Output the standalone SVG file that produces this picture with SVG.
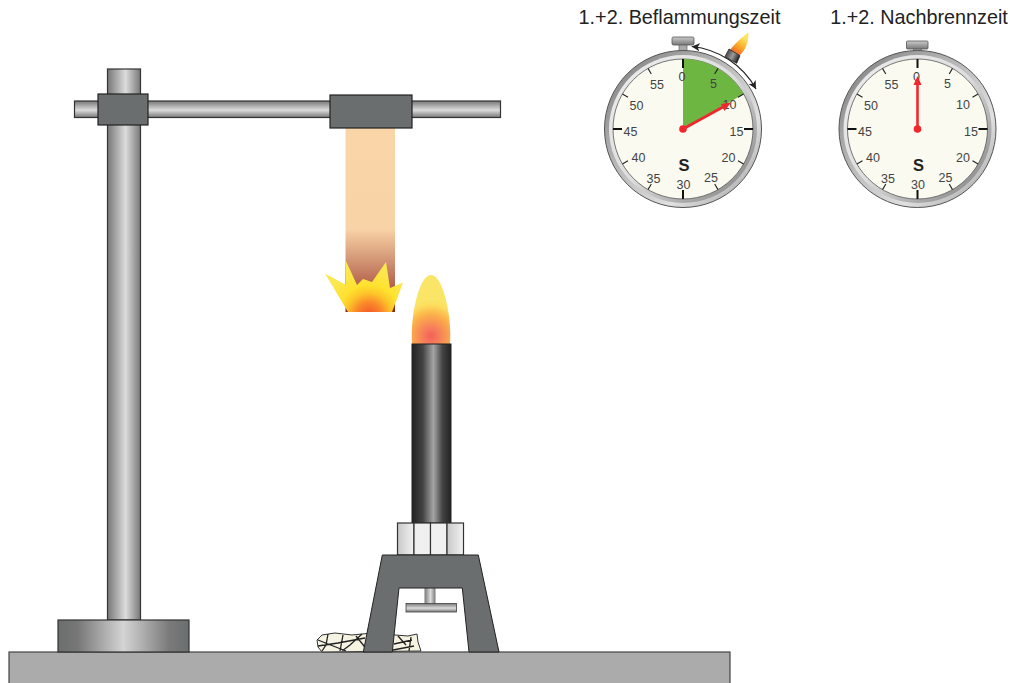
<svg xmlns="http://www.w3.org/2000/svg" width="1010" height="683" viewBox="0 0 1010 683">
<style>
.o{stroke:#333;stroke-width:1.2}
.num{font:12.5px "Liberation Sans",Arial,sans-serif;fill:#444;text-anchor:middle}
.s{font:bold 16.5px "Liberation Sans",Arial,sans-serif;fill:#222;text-anchor:middle}
.ttl{font:19.8px "Liberation Sans",Arial,sans-serif;fill:#222;text-anchor:middle}
.clamp{fill:#6a6e6e;stroke:#222;stroke-width:1.2}
.t1{stroke:#222;stroke-width:1.1}
.t2{stroke:#111;stroke-width:2}
</style>
<defs>
<linearGradient id="rodV"><stop offset="0" stop-color="#777"/><stop offset=".55" stop-color="#dcdcdc"/><stop offset="1" stop-color="#777"/></linearGradient>
<linearGradient id="rodH" x2="0" y2="1"><stop offset="0" stop-color="#777"/><stop offset=".55" stop-color="#dcdcdc"/><stop offset="1" stop-color="#777"/></linearGradient>
<linearGradient id="foot"><stop offset="0" stop-color="#6a6e6e"/><stop offset=".15" stop-color="#777"/><stop offset=".5" stop-color="#d4d4d4"/><stop offset=".85" stop-color="#7a7a7a"/><stop offset="1" stop-color="#6a6e6e"/></linearGradient>
<linearGradient id="tube"><stop offset="0" stop-color="#222"/><stop offset=".28" stop-color="#444"/><stop offset=".55" stop-color="#a5a5a5"/><stop offset=".78" stop-color="#444"/><stop offset="1" stop-color="#222"/></linearGradient>
<linearGradient id="nut"><stop offset="0" stop-color="#c8c8c8"/><stop offset="1" stop-color="#f2f2f2"/></linearGradient>
<linearGradient id="sample" gradientUnits="userSpaceOnUse" x1="0" y1="128" x2="0" y2="312"><stop offset="0" stop-color="#f9d5a8"/><stop offset=".55" stop-color="#f8d3a6"/><stop offset=".85" stop-color="#b5654e"/><stop offset="1" stop-color="#7a2a20"/></linearGradient>
<radialGradient id="fl1" gradientUnits="userSpaceOnUse" cx="369" cy="316" r="46"><stop offset="0" stop-color="#f0502a"/><stop offset=".3" stop-color="#fb8a2a"/><stop offset=".5" stop-color="#fdc62a"/><stop offset=".68" stop-color="#fee22e"/><stop offset="1" stop-color="#fbe74e"/></radialGradient>
<radialGradient id="fl2" gradientUnits="userSpaceOnUse" cx="431" cy="336" r="36"><stop offset="0" stop-color="#f4605a"/><stop offset=".25" stop-color="#f6805a"/><stop offset=".6" stop-color="#fbb14a"/><stop offset=".85" stop-color="#fcdc5c"/><stop offset="1" stop-color="#fbe566"/></radialGradient>
<linearGradient id="ring" x1="0" y1="0" x2="1" y2="1"><stop offset="0" stop-color="#777"/><stop offset=".3" stop-color="#a8a8a8"/><stop offset=".7" stop-color="#e0e0e0"/><stop offset="1" stop-color="#999"/></linearGradient>
<linearGradient id="ring2" x1="1" y1="1" x2="0" y2="0"><stop offset="0" stop-color="#777"/><stop offset=".5" stop-color="#ddd"/><stop offset="1" stop-color="#eee"/></linearGradient>
<linearGradient id="crown" x2="0" y2="1"><stop offset="0" stop-color="#ccc"/><stop offset="1" stop-color="#777"/></linearGradient>
<linearGradient id="minit" x1="0" y1="0" x2="1" y2=".5"><stop offset="0" stop-color="#222"/><stop offset=".6" stop-color="#999"/><stop offset="1" stop-color="#222"/></linearGradient>
<linearGradient id="miniflame" gradientUnits="userSpaceOnUse" x1="734" y1="54" x2="748" y2="32"><stop offset="0" stop-color="#f0602a"/><stop offset=".4" stop-color="#fbb02a"/><stop offset=".75" stop-color="#fbe566"/><stop offset="1" stop-color="#fbe566"/></linearGradient>
<marker id="ah" markerUnits="userSpaceOnUse" markerWidth="10" markerHeight="10" refX="8" refY="4" orient="auto-start-reverse"><path d="M0 0L8 4L0 8L2 4Z" fill="#222"/></marker>
<g id="ticks">
<path class="t2" d="M0-70V-61M70 0H61M0 70V61M-70 0H-61"/>
<path class="t1" d="M35-60.600L31.700-55M60.600-35L55-31.700M60.600 35L55 31.700M35 60.600L31.700 55M-35 60.600L-31.700 55M-60.600 35L-55 31.700M-60.600-35L-55-31.700M-35-60.600L-31.700-55"/>
</g>
</defs>

<g id="table"><rect x="9" y="652" width="721" height="33" fill="#ababab" stroke="#444" stroke-width="1.2"/></g>

<g id="stand">
<rect x="107.500" y="69" width="33" height="551" fill="url(#rodV)" class="o"/>
<rect x="58" y="620" width="131" height="32" fill="url(#foot)" class="o"/>
<rect x="74.500" y="101" width="426" height="16.500" fill="url(#rodH)" class="o"/>
<rect x="98" y="94" width="50" height="31" class="clamp"/>
</g>

<g id="sample-holder">
<rect x="345.500" y="128" width="49.500" height="184" fill="url(#sample)"/>
<rect x="330" y="95" width="82" height="33" class="clamp"/>
<polygon id="sample-flame" points="325,273.500 346,285 346,261 357,285 363,279 372,282 386,262 390,288 403,282.500 392,312 348,312" fill="url(#fl1)"/>
</g>

<g id="burner">
<path d="M412 344C410 316 419 275 431 275C443 275 452 316 450 344Z" fill="url(#fl2)"/>
<rect x="412" y="344" width="39" height="179" fill="url(#tube)" stroke="#222" stroke-width="1"/>
<rect x="397.500" y="523" width="16.500" height="32" fill="url(#nut)" class="o"/>
<rect x="414" y="523" width="16.500" height="32" fill="#f0f0f0" class="o"/>
<rect x="430.500" y="523" width="16.500" height="32" fill="#f0f0f0" class="o"/>
<rect x="447" y="523" width="16.500" height="32" fill="url(#nut)" class="o"/>
<rect x="424.500" y="588" width="11" height="16" fill="url(#rodV)"/>
<rect x="406" y="603.500" width="50.500" height="8.500" fill="url(#rodH)" stroke="#444" stroke-width=".8"/>
</g>

<g id="cotton">
<path d="M317 640L322 635L335 633L352 635L372 633L395 635L408 636L417 634L418 642L421 651L322 652L318 647Z" fill="#f6f3e2" stroke="#333" stroke-width="1"/>
<path d="M318 640L328 644L346 651M328 634L326 645L322 651M343 635L340 651M362 634L350 645L342 651M356 636L368 651M318 646L338 643L365 638M394 644L412 640M393 650L414 646M411 637L409 651M398 636L406 645" fill="none" stroke="#222" stroke-width="1.300"/>
</g>

<g id="burner-base">
<path d="M382.300 555H478.300L499 652H469L462.300 588H399L392.300 652H363.300Z" fill="#6a6e6e" stroke="#222" stroke-width="1"/>
</g>

<g id="watch1">
<text class="ttl" x="679.500" y="24">1.+2. Beflammungszeit</text>
<rect x="679" y="43" width="8" height="10" fill="#aaa" stroke="#555" stroke-width=".6"/>
<rect x="672" y="37" width="22" height="8" rx="1.500" fill="url(#crown)" stroke="#555" stroke-width=".8"/>
<circle cx="683" cy="129" r="78.500" fill="url(#ring)" stroke="#555" stroke-width="1"/>
<circle cx="683" cy="129" r="74" fill="url(#ring2)"/>
<circle cx="683" cy="129" r="70" fill="#fafaf0" stroke="#555" stroke-width=".8"/>
<path d="M683 129V59A70 70 0 0 1 743.600 94Z" fill="#6cb641"/>
<use href="#ticks" x="683" y="129"/>
<text class="num" x="682" y="80.500">0</text><text class="num" x="713.500" y="87.500">5</text><text class="num" x="729.500" y="108.500">10</text><text class="num" x="736.500" y="135.500">15</text><text class="num" x="728.500" y="161.500">20</text><text class="num" x="711" y="181.500">25</text><text class="num" x="683.500" y="188.500">30</text><text class="num" x="653.500" y="182.500">35</text><text class="num" x="638.500" y="161.500">40</text><text class="num" x="630.500" y="135.500">45</text><text class="num" x="636.500" y="109.500">50</text><text class="num" x="657" y="88.500">55</text>
<text class="s" x="684" y="171">S</text>
<path d="M683 129L723 107" stroke="#f0272c" stroke-width="2.600"/>
<polygon points="731,102.500 721,104 724.500,111" fill="#f0272c"/>
<circle cx="683" cy="129" r="3.800" fill="#f0272c"/>
<path d="M691.700 46.500A83 83 0 0 1 756 89" fill="none" stroke="#222" stroke-width="1.200" marker-start="url(#ah)" marker-end="url(#ah)"/>
<g id="mini-burner">
<path d="M730 50C735 43 743 37 748.300 32.300C749 41 746 50 739.500 55.500Z" fill="url(#miniflame)"/>
<polygon points="729,49 740,55.700 736.700,63.300 725,56.700" fill="url(#minit)" stroke="#222" stroke-width=".8"/>
</g>
</g>

<g id="watch2">
<text class="ttl" x="919" y="24">1.+2. Nachbrennzeit</text>
<rect x="913.500" y="48" width="8" height="5" fill="#aaa" stroke="#555" stroke-width=".6"/>
<rect x="906.500" y="41" width="21.500" height="8" rx="1" fill="url(#crown)" stroke="#555" stroke-width=".8"/>
<circle cx="917.500" cy="129" r="78.500" fill="url(#ring)" stroke="#555" stroke-width="1"/>
<circle cx="917.500" cy="129" r="74" fill="url(#ring2)"/>
<circle cx="917.500" cy="129" r="70" fill="#fafaf0" stroke="#555" stroke-width=".8"/>
<use href="#ticks" x="917.500" y="129"/>
<text class="num" x="916.500" y="80.500">0</text><text class="num" x="947.500" y="87.500">5</text><text class="num" x="963" y="108.500">10</text><text class="num" x="971" y="135.500">15</text><text class="num" x="963" y="161.500">20</text><text class="num" x="945.500" y="181.500">25</text><text class="num" x="918" y="188.500">30</text><text class="num" x="888" y="182.500">35</text><text class="num" x="873" y="161.500">40</text><text class="num" x="865" y="135.500">45</text><text class="num" x="871" y="109.500">50</text><text class="num" x="891.500" y="88.500">55</text>
<text class="s" x="918.500" y="171">S</text>
<path d="M917.500 129V84" stroke="#f0272c" stroke-width="2.600"/>
<polygon points="917.500,76 913.500,85 921.500,85" fill="#f0272c"/>
<circle cx="917.500" cy="129" r="3.800" fill="#f0272c"/>
</g>
</svg>
